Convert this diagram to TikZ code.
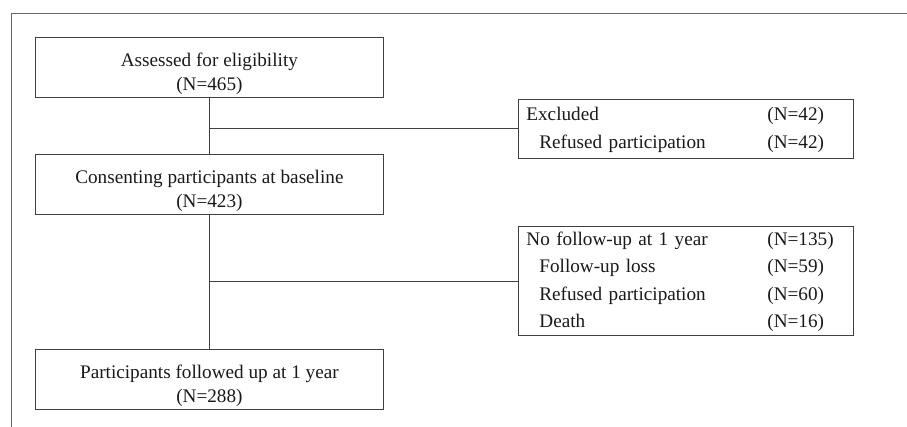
\documentclass[tikz,border=0pt]{standalone}
\usepackage{fontspec}
\setmainfont{Liberation Serif}
\usepackage{xcolor}
\renewcommand{\arraystretch}{1.05}
\newcommand{\sidelist}[1]{\begin{tabular}{@{}p{241pt}@{}l@{}}#1\end{tabular}}
\newcommand{\indentrow}{\hspace{13pt}}
\newcommand{\topgap}{\rule{0pt}{26pt}}

\begin{document}
\begin{tikzpicture}[x=1pt,y=-1pt,
    every node/.style={font=\fontsize{19.2}{26}\selectfont,text=black!90},
    box/.style={draw=black!75,line width=0.8pt,anchor=north west,minimum width=348pt,minimum height=60pt,align=center,inner sep=0pt,
        font=\fontsize{19.2}{24}\selectfont},
    sidebox/.style={draw=black!75,line width=0.8pt,anchor=north west,text width=319pt,inner xsep=8pt,inner ysep=0pt,align=left},
    link/.style={draw=black!75,line width=0.8pt}]
            \useasboundingbox (0,0) rectangle (907,427);

            % Draw frame
            \draw[black!60,line width=0.8pt] (11,427) -- (11,13) -- (907,13);

            % Main boxes
            \node[box] (assess) at (35,37) {\topgap Assessed for eligibility\\(N=465)};
            \node[box] (consent) at (35,154) {\topgap Consenting participants at baseline\\(N=423)};
            \node[box] (followed) at (35,349) {\topgap Participants followed up at 1 year\\(N=288)};

            % Side boxes
            \node[sidebox,minimum height=59pt] (excluded) at (518,99)
                {\sidelist{Excluded & (N=42)\\ \indentrow Refused participation & (N=42)}};
            \node[sidebox,minimum height=107pt] (nofollow) at (518,226)
                {\sidelist{No follow-up at 1 year & (N=135)\\ \indentrow Follow-up loss & (N=59)\\ \indentrow Refused participation & (N=60)\\ \indentrow Death & (N=16)}};

            % Connectors
            \draw[link] (assess.south) -- (consent.north);
            \draw[link] (excluded.west) -- (excluded.west -| assess.south);
            \draw[link] (consent.south) -- (followed.north);
            \draw[link] (nofollow.west) -- (nofollow.west -| consent.south);
        \end{tikzpicture}
\end{document}
